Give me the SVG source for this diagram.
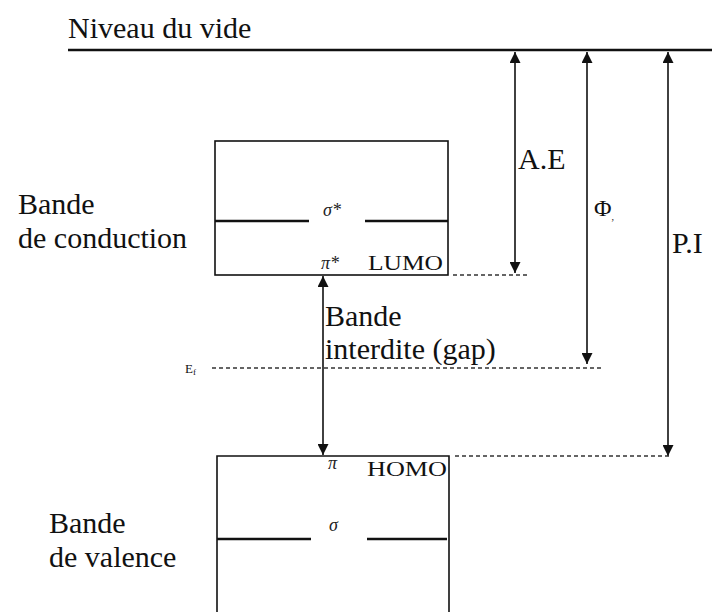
<svg xmlns="http://www.w3.org/2000/svg" width="712" height="612" viewBox="0 0 712 612">
<defs>
<style>
.box{fill:none;stroke:#111;stroke-width:1.6;}
.lvl{stroke:#111;stroke-width:2.6;}
.arr{stroke:#111;stroke-width:1.6;fill:none;marker-start:url(#ah);marker-end:url(#ah);}
.dash{stroke:#333;stroke-width:1.6;stroke-dasharray:4 3;fill:none;}
</style>
<marker id="ah" viewBox="0 0 10 10" refX="10" refY="5" markerWidth="11" markerHeight="11" markerUnits="userSpaceOnUse" orient="auto-start-reverse">
<path d="M0,0 L10,5 L0,10 z" fill="#111"/>
</marker>
</defs>
<rect width="712" height="612" fill="#fff"/>

<g id="vide">
<line x1="68" y1="50" x2="712" y2="50" class="lvl"/>
<text font-family="Liberation Serif" font-size="30" fill="#111" x="68" y="38">Niveau du vide</text>
</g>

<g id="bande-conduction">
<rect class="box" x="215" y="141" width="233" height="134"/>
<line class="lvl" x1="215" y1="221" x2="309" y2="221"/>
<line class="lvl" x1="365" y1="221" x2="448" y2="221"/>
<text font-family="Liberation Serif" font-size="18" font-style="italic" fill="#222" x="323" y="216">σ*</text>
<text font-family="Liberation Serif" font-size="18" font-style="italic" fill="#222" x="321" y="269">π*</text>
<text font-family="Liberation Serif" font-size="20" fill="#111" x="368" y="270" textLength="75" lengthAdjust="spacingAndGlyphs">LUMO</text>
<text font-family="Liberation Serif" font-size="30" fill="#111" x="18" y="214">Bande</text>
<text font-family="Liberation Serif" font-size="30" fill="#111" x="18" y="248">de conduction</text>
</g>

<g id="bande-valence">
<path class="box" d="M217,612 L217,456 L449,456 L449,612"/>
<line class="lvl" x1="217" y1="539" x2="311" y2="539"/>
<line class="lvl" x1="367" y1="539" x2="447" y2="539"/>
<text font-family="Liberation Serif" font-size="18" font-style="italic" fill="#222" x="328" y="469">π</text>
<text font-family="Liberation Serif" font-size="18" font-style="italic" fill="#222" x="329" y="531">σ</text>
<text font-family="Liberation Serif" font-size="20" fill="#111" x="367" y="476" textLength="80" lengthAdjust="spacingAndGlyphs">HOMO</text>
<text font-family="Liberation Serif" font-size="30" fill="#111" x="49" y="533">Bande</text>
<text font-family="Liberation Serif" font-size="30" fill="#111" x="49" y="567">de valence</text>
</g>

<g id="fermi">
<text font-family="Liberation Serif" font-size="13" fill="#111" x="185" y="373">E<tspan font-size="9" dy="2">f</tspan></text>
</g>

<g id="gap-label">
<text font-family="Liberation Serif" font-size="30" fill="#111" x="325" y="326">Bande</text>
<text font-family="Liberation Serif" font-size="30" fill="#111" x="325" y="359">interdite (gap)</text>
</g>

<g id="labels">
<text font-family="Liberation Serif" font-size="30" fill="#111" x="518" y="169">A.E</text>
<text font-family="Liberation Serif" font-size="24" fill="#111" x="594" y="216">Φ<tspan font-size="10" dy="4">,</tspan></text>
<text font-family="Liberation Serif" font-size="30" fill="#111" x="672" y="253">P.I</text>
</g>

<g id="connectors">
<line class="arr" x1="515" y1="52" x2="515" y2="273"/>
<line class="arr" x1="587" y1="52" x2="587" y2="364"/>
<line class="arr" x1="668" y1="52" x2="668" y2="456"/>
<line class="arr" x1="323" y1="276" x2="323" y2="455"/>
<line class="dash" x1="453" y1="275" x2="530" y2="275"/>
<line class="dash" x1="212" y1="368" x2="603" y2="368"/>
<line class="dash" x1="455" y1="456" x2="670" y2="456"/>
</g>
</svg>
